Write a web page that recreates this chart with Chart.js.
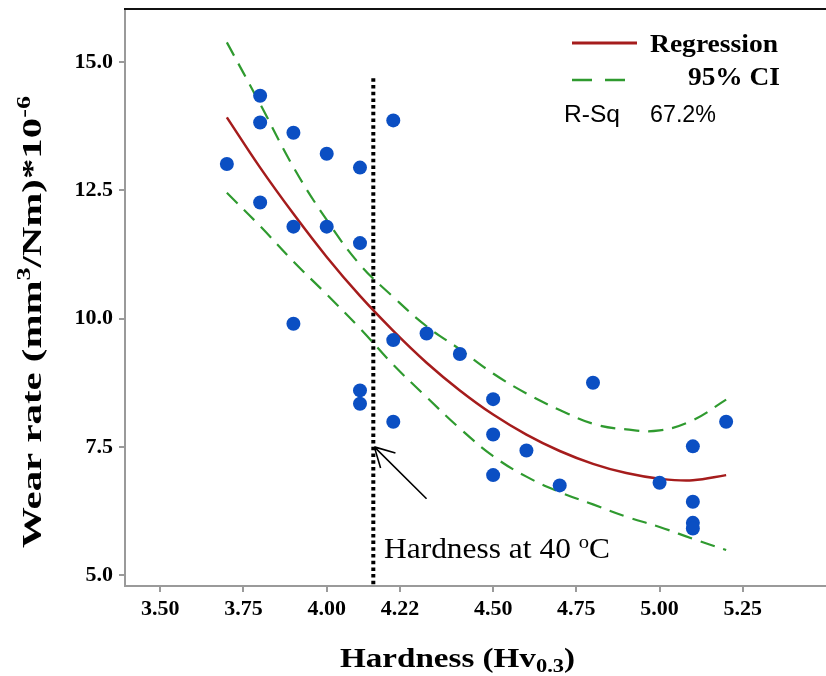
<!DOCTYPE html>
<html>
<head>
<meta charset="utf-8">
<script src="https://cdn.jsdelivr.net/npm/chart.js@4.4.0/dist/chart.umd.min.js"></script>
<style>
  body { margin: 0; background: #fff; }
  canvas { display: block; }
</style>
</head>
<body>
<canvas id="chart" width="826" height="676"></canvas>
<script>
// measured points (hardness Hv0.3, wear rate)
const hardness = [3.70, 3.80, 3.80, 3.80, 3.90, 3.90, 3.90, 4.00, 4.00, 4.10, 4.10, 4.10, 4.10,
  4.20, 4.20, 4.20, 4.30, 4.40, 4.50, 4.50, 4.50, 4.60, 4.70, 4.80, 5.00, 5.10, 5.10, 5.10, 5.10, 5.20];
const wearRate = [13.01, 14.34, 13.82, 12.26, 13.62, 11.79, 9.90, 13.21, 11.79, 12.94, 11.47, 8.60, 8.34,
  13.86, 9.58, 7.99, 9.71, 9.31, 8.43, 7.74, 6.95, 7.43, 6.75, 8.75, 6.80, 7.51, 6.43, 6.02, 5.91, 7.99];

// fitted curve and 95% CI band
const fitX = [3.70, 3.80, 3.90, 4.00, 4.10, 4.20, 4.30, 4.40, 4.50, 4.60, 4.70, 4.80, 4.90, 5.00, 5.10, 5.20];
const fitY = [13.92, 12.94, 12.04, 11.20, 10.44, 9.76, 9.14, 8.60, 8.13, 7.74, 7.42, 7.17, 6.99, 6.88, 6.85, 6.95];
const ciUpper = [15.38, 14.18, 12.95, 11.92, 11.05, 10.42, 9.85, 9.40, 8.93, 8.54, 8.22, 7.95, 7.84, 7.82, 8.02, 8.42];
const ciLower = [12.45, 11.80, 11.11, 10.47, 9.81, 9.10, 8.47, 7.86, 7.32, 6.92, 6.62, 6.38, 6.14, 5.94, 5.71, 5.49];

const xTicks = [3.50, 3.75, 4.00, 4.22, 4.50, 4.75, 5.00, 5.25];
const yTicks = [5.0, 7.5, 10.0, 12.5, 15.0];

const markerX = 4.14;      // hardness at 40 C
const markerTop = 14.68;
const arrowTip = { x: 4.143, y: 7.50 };
const arrowTail = { x: 4.30, y: 6.49 };
const rSq = '67.2%';

const serif = '"Liberation Serif", "Times New Roman", serif';
const sans = '"Liberation Sans", Arial, sans-serif';

const toPts = (xs, ys) => xs.map((v, i) => ({ x: v, y: ys[i] }));

// draws pieces of text (some raised or lowered) from x, squeezed/stretched to span width w
function drawPieces(ctx, pieces, x, y, w) {
  let total = 0;
  pieces.forEach((p) => { ctx.font = p.font; total += ctx.measureText(p.text).width; });
  const k = w ? w / total : 1;
  ctx.save();
  ctx.translate(x, y);
  ctx.scale(k, 1);
  let cx = 0;
  pieces.forEach((p) => {
    ctx.font = p.font;
    ctx.fillText(p.text, cx, p.shift || 0);
    cx += ctx.measureText(p.text).width;
  });
  ctx.restore();
}

const decorations = {
  id: 'decorations',
  afterDraw(chart) {
    const { ctx, chartArea, scales: { x, y } } = chart;
    ctx.save();

    // top frame line
    ctx.strokeStyle = '#111';
    ctx.lineWidth = 2;
    ctx.beginPath();
    ctx.moveTo(chartArea.left - 1, chartArea.top);
    ctx.lineTo(chart.width, chartArea.top);
    ctx.stroke();

    // arrow
    const tx = x.getPixelForValue(arrowTip.x), ty = y.getPixelForValue(arrowTip.y);
    const sx = x.getPixelForValue(arrowTail.x), sy = y.getPixelForValue(arrowTail.y);
    ctx.strokeStyle = '#000';
    ctx.lineWidth = 1.6;
    ctx.beginPath();
    ctx.moveTo(sx, sy);
    ctx.lineTo(tx, ty);
    const ang = Math.atan2(sy - ty, sx - tx);
    [0.5, -0.5].forEach((d) => {
      ctx.moveTo(tx, ty);
      ctx.lineTo(tx + 22 * Math.cos(ang + d), ty + 22 * Math.sin(ang + d));
    });
    ctx.stroke();

    ctx.fillStyle = '#000';
    ctx.textBaseline = 'alphabetic';

    // annotation
    drawPieces(ctx, [
      { text: 'Hardness at 40 ', font: `29px ${serif}` },
      { text: 'o', font: `19px ${serif}`, shift: -10 },
      { text: 'C', font: `29px ${serif}` },
    ], 384, 558, 226);

    // legend
    ctx.strokeStyle = '#a51c1c';
    ctx.lineWidth = 3;
    ctx.beginPath();
    ctx.moveTo(572, 43);
    ctx.lineTo(637, 43);
    ctx.stroke();
    ctx.strokeStyle = '#2f9a2f';
    ctx.lineWidth = 2.5;
    ctx.setLineDash([20, 13]);
    ctx.beginPath();
    ctx.moveTo(572, 80);
    ctx.lineTo(625, 80);
    ctx.stroke();
    ctx.setLineDash([]);

    drawPieces(ctx, [{ text: 'Regression', font: `bold 25px ${serif}` }], 650, 52, 128);
    drawPieces(ctx, [{ text: '95% CI', font: `bold 25px ${serif}` }], 688, 85, 92);
    drawPieces(ctx, [{ text: 'R-Sq', font: `23px ${sans}` }], 564, 122, 56);
    drawPieces(ctx, [{ text: rSq, font: `23px ${sans}` }], 650, 122, 66);

    // x axis title
    drawPieces(ctx, [
      { text: 'Hardness (Hv', font: `bold 28px ${serif}` },
      { text: '0.3', font: `bold 19px ${serif}`, shift: 5 },
      { text: ')', font: `bold 28px ${serif}` },
    ], 340, 667, 235);

    // y axis title
    ctx.translate(41, 548);
    ctx.rotate(-Math.PI / 2);
    drawPieces(ctx, [
      { text: 'Wear rate (mm', font: `bold 28px ${serif}` },
      { text: '3', font: `bold 18px ${serif}`, shift: -11 },
      { text: '/Nm)*10', font: `bold 28px ${serif}` },
      { text: '-6', font: `bold 18px ${serif}`, shift: -11 },
    ], 0, 0, 452);

    ctx.restore();
  }
};

const tickFont = { family: serif, weight: 'bold', size: 22 };
const axisGray = '#9a9a9a';

new Chart(document.getElementById('chart'), {
  type: 'scatter',
  data: {
    datasets: [
      {
        label: 'Data',
        data: toPts(hardness, wearRate),
        backgroundColor: '#0b4fc3',
        borderWidth: 0,
        pointRadius: 7,
        order: 0,
      },
      {
        label: 'Regression',
        type: 'line',
        data: toPts(fitX, fitY),
        borderColor: '#a51c1c',
        borderWidth: 2.5,
        pointRadius: 0,
        tension: 0.4,
        fill: false,
        order: 1,
      },
      {
        label: '95% CI',
        type: 'line',
        data: toPts(fitX, ciUpper),
        borderColor: '#2f9a2f',
        borderWidth: 2.2,
        borderDash: [15, 9],
        pointRadius: 0,
        tension: 0.4,
        fill: false,
        order: 2,
      },
      {
        label: '95% CI lower',
        type: 'line',
        data: toPts(fitX, ciLower),
        borderColor: '#2f9a2f',
        borderWidth: 2.2,
        borderDash: [15, 9],
        pointRadius: 0,
        tension: 0.4,
        fill: false,
        order: 3,
      },
      {
        label: 'Hardness at 40 C',
        type: 'line',
        data: [{ x: markerX, y: markerTop }, { x: markerX, y: 4.79 }],
        borderColor: '#000',
        borderWidth: 4,
        borderDash: [3.5, 3.2],
        borderCapStyle: 'butt',
        pointRadius: 0,
        fill: false,
        order: 4,
      },
    ],
  },
  options: {
    responsive: false,
    animation: false,
    devicePixelRatio: 1,
    layout: { autoPadding: false, padding: { top: 9, right: 0, left: 0, bottom: 0 } },
    plugins: {
      legend: { display: false },
      tooltip: { enabled: false },
    },
    scales: {
      x: {
        type: 'linear',
        min: 3.394,
        max: 5.50,
        afterBuildTicks: (s) => { s.ticks = xTicks.map((v) => ({ value: v })); },
        afterFit: (s) => { s.height = 90; s.paddingLeft = 0; s.paddingRight = 0; },
        ticks: {
          callback: (v) => v.toFixed(2),
          font: tickFont,
          color: '#000',
          padding: 4,
          maxRotation: 0,
          autoSkip: false,
        },
        grid: { drawOnChartArea: false, tickLength: 6, color: axisGray, lineWidth: 2 },
        border: { display: true, color: axisGray, width: 2 },
      },
      y: {
        min: 4.79,
        max: 16.03,
        afterBuildTicks: (s) => { s.ticks = yTicks.map((v) => ({ value: v })); },
        afterFit: (s) => { s.width = 125; s.paddingTop = 0; s.paddingBottom = 0; },
        ticks: {
          callback: (v) => v.toFixed(1),
          font: tickFont,
          color: '#000',
          padding: 6,
        },
        grid: { drawOnChartArea: false, tickLength: 6, color: axisGray, lineWidth: 2 },
        border: { display: true, color: axisGray, width: 2 },
      },
    },
  },
  plugins: [decorations],
});
</script>
</body>
</html>
